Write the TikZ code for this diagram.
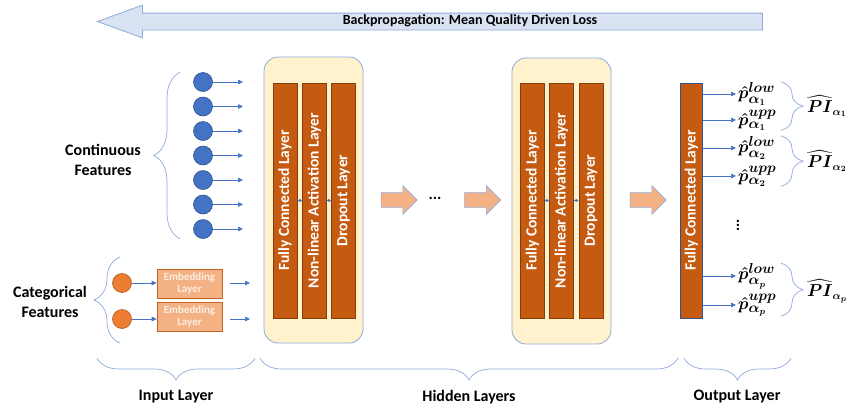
\documentclass[tikz,border=0pt]{standalone}
\usepackage{amsmath,bm}
\usepackage{fontspec}
\setmainfont{Carlito}
\usetikzlibrary{arrows.meta,shapes.arrows,decorations.pathreplacing,positioning}
\definecolor{lineblue}{HTML}{8FAADC}
\definecolor{dotblue}{HTML}{4472C4}
\definecolor{dotedge}{HTML}{2F528F}
\definecolor{catorange}{HTML}{ED7D31}
\definecolor{catedge}{HTML}{AE5A21}
\definecolor{embfill}{HTML}{F4B183}
\definecolor{embtext}{HTML}{FDEEE4}
\definecolor{hidfill}{HTML}{FFF2CC}
\definecolor{barfill}{HTML}{C55A11}
\definecolor{baredge}{HTML}{843C0C}
\definecolor{bpfill}{HTML}{DAE3F3}
\begin{document}
\begin{tikzpicture}[x=1pt,y=-1pt,
  feat/.style={circle,fill=dotblue,draw=dotedge,line width=0.6pt,minimum size=19pt,inner sep=0pt},
  catfeat/.style={feat,fill=catorange,draw=catedge},
  thinarrow/.style={dotblue,line width=0.7pt,-{Triangle[length=5pt,width=4.5pt]}},
  tinyarrow/.style={dotblue,line width=0.5pt,-{Triangle[length=3pt,width=3pt]}},
  embed/.style={rectangle,fill=embfill,draw=catorange!80!black,line width=0.6pt,minimum width=65pt,minimum height=29pt,inner sep=0pt,text=embtext,font=\fontsize{11}{12.5}\selectfont\bfseries,align=center},
  hidden/.style={rectangle,rounded corners=14pt,fill=hidfill,draw=lineblue,line width=0.8pt,minimum width=99pt,minimum height=286pt},
  bar/.style={rectangle,rotate=90,fill=barfill,draw=baredge,line width=0.6pt,minimum width=235pt,minimum height=24pt,inner sep=0pt,text=white,font=\fontsize{15.5}{16}\selectfont\bfseries},
  fat/.style={single arrow,fill=embfill,draw=lineblue,line width=0.6pt,minimum height=36pt,inner xsep=0pt,inner ysep=7pt,single arrow head extend=7pt,single arrow head indent=0pt},
  curly/.style={lineblue,line width=0.7pt,decorate,decoration={brace,amplitude=#1}},
  title/.style={font=\fontsize{16}{20}\selectfont\bfseries,align=center},
  outlab/.style={font=\fontsize{19}{22}\selectfont\boldmath,anchor=west,inner sep=0pt},
  pilab/.style={font=\fontsize{16}{18}\selectfont\boldmath,anchor=west,inner sep=0pt}
]
\useasboundingbox (0,0) rectangle (846,416);

% backpropagation arrow
\node[single arrow,shape border rotate=180,fill=bpfill,draw=lineblue,line width=0.8pt,
  minimum height=665pt,inner xsep=0pt,inner ysep=8pt,single arrow head extend=8pt,
  single arrow tip angle=40,single arrow head indent=0pt] (bp) at (441.5,21.5) {};
\node[font=\fontsize{14}{16}\selectfont\bfseries] (bptext) at (470,21) {Backpropagation: Mean Quality Driven Loss};

% input layer
\foreach \i/\y in {1/82,2/106.5,3/131,4/155.5,5/180,6/204.5,7/229} {
  \node[feat] (c\i) at (203,\y) {};
  \coordinate (ca\i) at (243,\y);
  \draw[thinarrow] (c\i) -- (ca\i);
}
\node[title] (cont) at (103,160) {Continuous\\Features};
\coordinate (cb) at (180,0);
\draw[curly=26pt] (c7.south -| cb) -- (c1.north -| cb);

\node[catfeat] (o1) at (122,283) {};
\node[catfeat] (o2) at (122,319) {};
\node[embed] (e1) at (189.5,283.5) {Embedding\\Layer};
\node[embed] (e2) at (189.5,316.5) {Embedding\\Layer};
\draw[thinarrow] (o1) -- (o1 -| e1.west);
\draw[thinarrow] (o2) -- (o2 -| e2.west);
\coordinate (ea1) at (250,283);
\coordinate (ea2) at (250,319);
\draw[thinarrow,shorten <=8pt] (ea1 -| e1.east) -- (ea1);
\draw[thinarrow,shorten <=8pt] (ea2 -| e2.east) -- (ea2);
\node[title] (cat) at (50,302) {Categorical\\Features};
\coordinate (kt) at (120,257);
\coordinate (kb) at (120,343);
\draw[curly=26pt] (kb) -- (kt);

% hidden layers
\node[hidden] (h1) at (313.5,200) {};
\node[bar] (b11) at (285,200.5) {Fully Connected Layer};
\node[bar] (b12) at (314.5,200.5) {Non-linear Activation Layer};
\node[bar] (b13) at (343.5,200.5) {Dropout Layer};
\draw[tinyarrow] (b11.south) -- (b12.north);
\draw[tinyarrow] (b12.south) -- (b13.north);

\node[fat] (f1) at (395.5,200) {};
\node[font=\fontsize{16}{16}\selectfont\bfseries] (dots) at (435,198) {...};
\node[fat] (f2) at (479,200) {};

\node[hidden] (h2) at (561.5,201) {};
\node[bar] (b21) at (532.5,200.5) {Fully Connected Layer};
\node[bar] (b22) at (561.5,200.5) {Non-linear Activation Layer};
\node[bar] (b23) at (591,200.5) {Dropout Layer};
\draw[tinyarrow] (b21.south) -- (b22.north);
\draw[tinyarrow] (b22.south) -- (b23.north);

\node[fat] (f3) at (644.5,200) {};

% output layer
\node[bar,draw=dotedge,minimum height=22pt] (ob) at (691.5,200.5) {Fully Connected Layer};
\node[outlab] (p1) at (738,94) {$\hat{p}^{low}_{\alpha_1}$};
\node[outlab] (p2) at (738,120) {$\hat{p}^{upp}_{\alpha_1}$};
\node[outlab] (p3) at (738,148) {$\hat{p}^{low}_{\alpha_2}$};
\node[outlab] (p4) at (738,176) {$\hat{p}^{upp}_{\alpha_2}$};
\node[outlab] (p5) at (738,276) {$\hat{p}^{low}_{\alpha_p}$};
\node[outlab] (p6) at (738,305) {$\hat{p}^{upp}_{\alpha_p}$};
\foreach \k in {1,...,6} {
  \draw[thinarrow,shorten >=2pt] (ob.south |- p\k.west) -- (p\k.west);
}
\node[font=\fontsize{16}{16}\selectfont\bfseries] (vd) at (738,222) {\vdots};

\coordinate (ox) at (781,0);
\draw[curly=22pt] (p1.north -| ox) -- (p2.south -| ox);
\draw[curly=22pt] (p3.north -| ox) -- (p4.south -| ox);
\draw[curly=22pt] (p5.north -| ox) -- (p6.south -| ox);
\node[pilab] (pi1) at (807,106) {$\widehat{PI}_{\alpha_1}$};
\node[pilab] (pi2) at (807,161) {$\widehat{PI}_{\alpha_2}$};
\node[pilab] (pi3) at (807,291) {$\widehat{PI}_{\alpha_p}$};

% layer braces
\coordinate (ib1) at (97,358);
\coordinate (ib2) at (255,358);
\coordinate (hb1) at (260,358);
\coordinate (hb2) at (678,358);
\coordinate (ob1) at (684,358);
\coordinate (ob2) at (791,358);
\draw[curly=22pt,decoration={mirror}] (ib1) -- (ib2);
\draw[curly=22pt,decoration={mirror}] (hb1) -- (hb2);
\draw[curly=22pt,decoration={mirror}] (ob1) -- (ob2);
\node[title] (inl) at (176,397) {Input Layer};
\node[title] (hil) at (469,397) {Hidden Layers};
\node[title] (oul) at (737,397) {Output Layer};
\end{tikzpicture}
\end{document}
